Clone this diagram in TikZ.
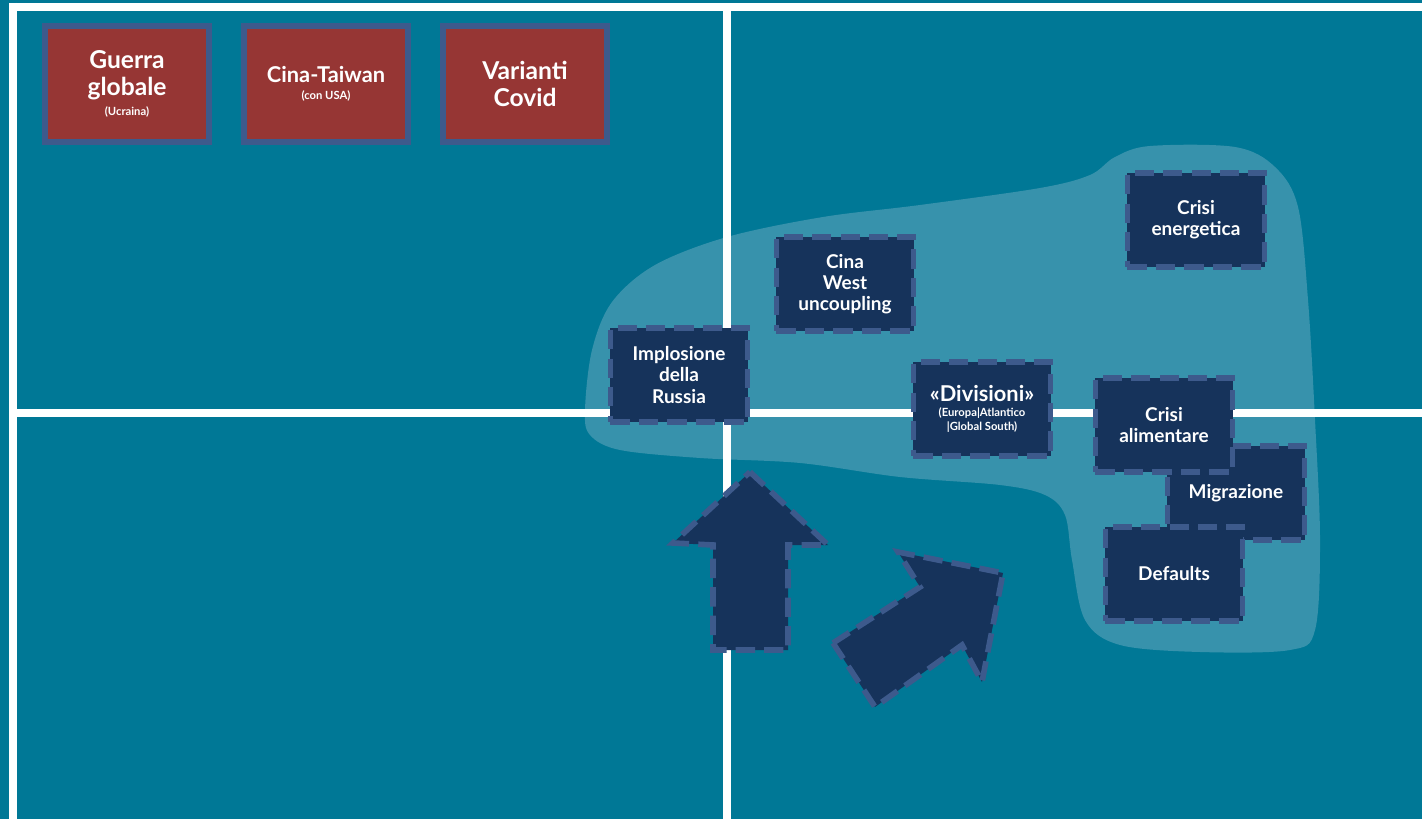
\documentclass[tikz,border=0pt]{standalone}
\usepackage{fontspec}
\setmainfont{Lato}
\usepackage{tikz}
\usepackage{xcolor}
\definecolor{sea}{RGB}{0,120,150}
\definecolor{pool}{RGB}{55,146,172}
\definecolor{navy}{RGB}{22,51,91}
\definecolor{rim}{RGB}{61,90,140}
\definecolor{brick}{RGB}{150,54,52}
\newcommand{\smallnote}[1]{{\fontsize{3.2}{4}\selectfont #1}}

\begin{document}
\begin{tikzpicture}[x=0.01cm, y=-0.01cm,
  gridline/.style={white, line width=2pt},
  riskbox/.style={draw=rim, line width=1.7pt, fill=brick, text=white, align=center,
    font=\bfseries\fontsize{7}{7.7}\selectfont, minimum width=1.64cm, minimum height=1.15cm, inner sep=0pt},
  trendbox/.style={draw=rim, line width=1.6pt, dash pattern=on 5.5pt off 2.6pt, fill=navy, text=white, align=center,
    font=\bfseries\fontsize{5.4}{6}\selectfont, minimum width=1.37cm, minimum height=0.94cm, inner sep=0pt},
  bigarrow/.style={draw=rim, line width=1.6pt, dash pattern=on 5.5pt off 2.6pt, fill=navy}]
\fill[sea] (0,0) rectangle (1422,819);
\useasboundingbox (0,0) rectangle (1422,819);
\fill[pool] plot[smooth cycle, tension=0.55] coordinates {(585,410) (592,350) (612,302) (655,265) (727,237) (823,217) (920,205) (1040,188) (1090,175) (1115,157) (1150,146) (1235,147) (1275,167) (1298,207) (1308,300) (1315,420) (1320,540) (1315,630) (1290,650) (1200,652) (1120,645) (1085,620) (1072,560) (1065,515) (1045,495) (1000,485) (900,477) (800,463) (700,458) (620,450) (590,435)};
\draw[gridline] (10,7) -- (1422,7);
\draw[gridline] (13,3) -- (13,819);
\draw[gridline] (727,7) -- (727,819);
\draw[gridline] (13,413) -- (1422,413);
\filldraw[bigarrow] (750,472) -- (828,545) -- (788,545) -- (788,650) -- (713,650) -- (713,545) -- (673,543) -- cycle;
\filldraw[bigarrow] (833,643) -- (920,587) -- (898,552) -- (1003,573) -- (982,682) -- (962,645) -- (875,707) -- cycle;
\node[riskbox] (guerra) at (127,84) {Guerra\\globale\\[-2.2pt]\smallnote{(Ucraina)}};
\node[riskbox, font=\bfseries\fontsize{6.2}{7}\selectfont] (taiwan) at (326,84) {Cina-Taiwan\\[-2pt]\smallnote{(con USA)}};
\node[riskbox] (covid) at (525,84) {Varianti\\Covid};
\node[trendbox] (russia) at (679,375) {Implosione\\della\\Russia};
\node[trendbox] (west) at (845,284) {Cina\\West\\uncoupling};
\node[trendbox] (energia) at (1196,220) {Crisi\\energetica};
\node[trendbox] (divisioni) at (982,409) {{\fontsize{6.2}{6.2}\selectfont «Divisioni»}\\[-1.6pt]\smallnote{(Europa|Atlantico}\\[-2pt]\smallnote{|Global South)}};
\node[trendbox] (migrazione) at (1236,493) {Migrazione};
\node[trendbox] (alimentare) at (1164,425) {Crisi\\alimentare};
\node[trendbox] (defaults) at (1174,574) {Defaults};
\end{tikzpicture}
\end{document}
